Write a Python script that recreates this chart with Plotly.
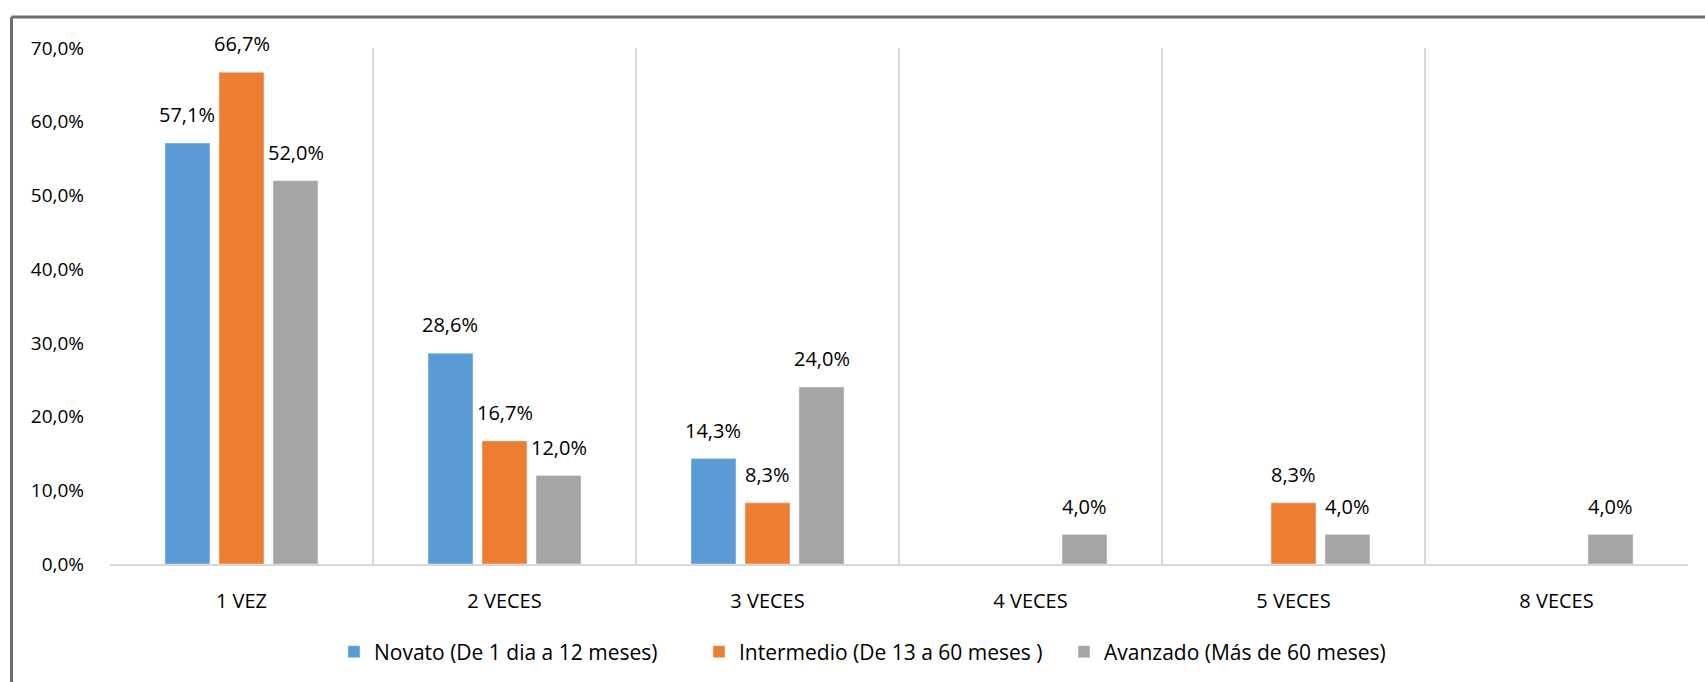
import plotly.graph_objects as go

categories = ["1 VEZ", "2 VECES", "3 VECES", "4 VECES", "5 VECES", "8 VECES"]
series_names = ["Novato (De 1 dia a 12 meses)", "Intermedio (De 13 a 60 meses )", "Avanzado (Más de 60 meses)"]
novato = [57.1, 28.6, 14.3, None, None, None]
intermedio = [66.7, 16.7, 8.3, None, 8.3, None]
avanzado = [52.0, 12.0, 24.0, 4.0, 4.0, 4.0]
colors = ["#5B9BD5", "#ED7D31", "#A5A5A5"]
y_ticks = [0, 10, 20, 30, 40, 50, 60, 70]

FONT = "Open Sans"
W, H = 1705, 682
ML, MR, MT, MB = 110, 17, 48, 118
BARGAP, GROUPGAP = 0.384, 0.167
PW, PH = W - ML - MR, H - MT - MB


def fmt(v):
    return f"{v:.1f}%".replace(".", ",")


def px_x(px):
    return (px - ML) / PW


def px_y(py):
    return (H - MB - py) / PH


fig = go.Figure()
all_series = [novato, intermedio, avanzado]
for name, vals, col in zip(series_names, all_series, colors):
    fig.add_trace(go.Bar(x=categories, y=vals, name=name, marker_color=col))

# value labels above the bars (annotations so they can sit a little higher)
cat_px = PW / len(categories)
slot_px = cat_px * (1 - BARGAP) / len(all_series)
annotations = []
for si, vals in enumerate(all_series):
    shift = (si - (len(all_series) - 1) / 2) * slot_px
    for cat, v in zip(categories, vals):
        if v is None:
            continue
        annotations.append(dict(
            x=cat, y=v, xref="x", yref="y", text=fmt(v), showarrow=False,
            xshift=shift, yshift=13, yanchor="bottom",
            font=dict(family=FONT, size=20, color="black"),
        ))

fig.update_layout(
    width=W, height=H,
    paper_bgcolor="white", plot_bgcolor="white",
    margin=dict(l=ML, r=MR, t=MT, b=MB, autoexpand=False),
    barmode="group", bargap=BARGAP, bargroupgap=GROUPGAP,
    font=dict(family=FONT, size=20, color="black"),
    legend=dict(orientation="h", x=px_x(334), xanchor="left", y=px_y(652), yanchor="middle",
                font=dict(family=FONT, size=21, color="black"), entrywidth=320,
                traceorder="normal"),
    showlegend=True,
    annotations=annotations,
)
fig.update_xaxes(
    showgrid=True, gridcolor="#D9D9D9", gridwidth=1.5, tickson="boundaries",
    ticks="", showline=True, linecolor="#D9D9D9", linewidth=2,
    ticklabelstandoff=18, tickfont=dict(family=FONT, size=20, color="black"),
)
fig.update_yaxes(
    range=[0, 70], tickvals=y_ticks,
    ticktext=[fmt(v) for v in y_ticks],
    showgrid=False, zeroline=False, showline=False, ticks="",
    ticklabelstandoff=25, tickfont=dict(family=FONT, size=19, color="black"),
)

# outer frame lines of the scanned figure
fig.add_shape(type="line", xref="paper", yref="paper", x0=px_x(11.5), x1=px_x(1710), y0=px_y(17), y1=px_y(17),
              line=dict(color="#6E6E6E", width=3))
fig.add_shape(type="line", xref="paper", yref="paper", x0=px_x(11.5), x1=px_x(11.5), y0=px_y(17), y1=px_y(690),
              line=dict(color="#6E6E6E", width=3))

fig.write_html("out.html", config={"displayModeBar": False},
               post_script="document.body.style.margin='0';")
